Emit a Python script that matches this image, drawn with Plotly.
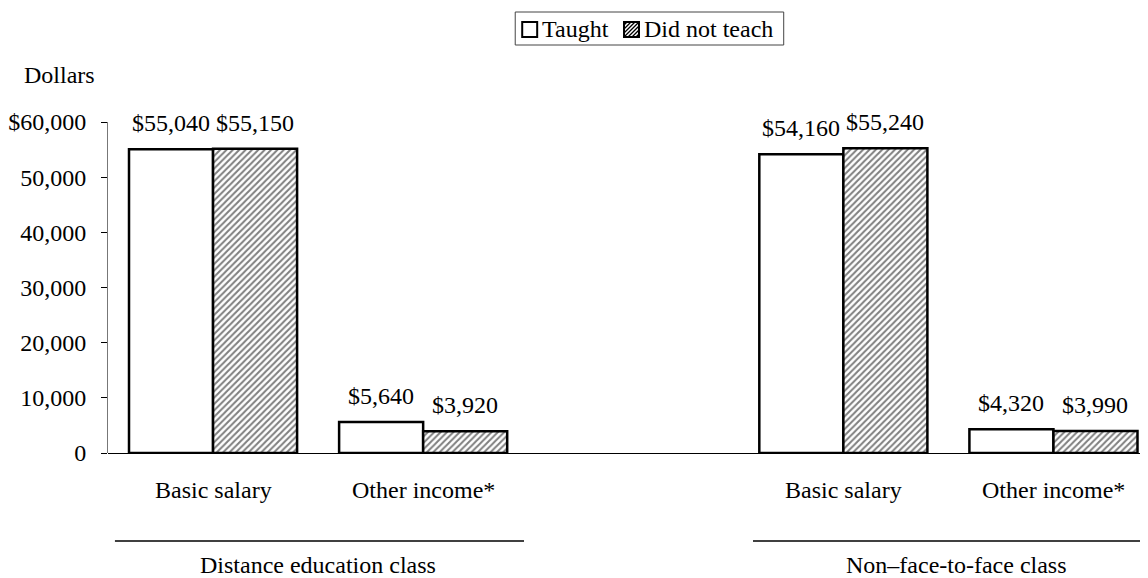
import plotly.graph_objects as go

# ---- data ----
groups = ["Distance education class", "Non\u2013face-to-face class"]
income_types = ["Basic salary", "Other income*"]
taught = [55040, 5640, 54160, 4320]
did_not_teach = [55150, 3920, 55240, 3990]
series_names = ["Taught", "Did not teach"]
y_tickvals = [0, 10000, 20000, 30000, 40000, 50000, 60000]
y_ticktext = ["0", "10,000", "20,000", "30,000", "40,000", "50,000", "$60,000"]

# category positions: two groups of two, with a gap between groups
positions = [1, 2, 4, 5]
cat_labels = income_types * 2
group_centers = [1.5, 4.5]

FONT = "Liberation Serif"
FS = 24

# the page places the figure 8px in from the top-left corner
OFF = 8
L, T = 106 - OFF, 122 - OFF
B = 578 - 453 + OFF
PLOT_H = 578 - T - B
PLOT_W = 1148 - L
UNIT = 210.5  # px per category step


def py(p):
    """paper y for a pixel row in the reference picture"""
    return (453 - p) / PLOT_H


def px(p):
    """paper x for a pixel column in the reference picture"""
    return (p - 106) / PLOT_W


fig = go.Figure()
fig.add_trace(go.Bar(
    x=positions, y=taught, name=series_names[0], showlegend=False,
    marker=dict(color="white", line=dict(color="black", width=2.5)),
))
fig.add_trace(go.Bar(
    x=positions, y=did_not_teach, name=series_names[1], showlegend=False,
    marker=dict(color="white", line=dict(color="black", width=2.5),
                pattern=dict(shape="/", fgcolor="black", bgcolor="white",
                             size=4.5, solidity=0.45)),
))

annotations = []
shapes = []
# value labels
for vals, off in [(taught, -0.2), (did_not_teach, 0.2)]:
    for p, v in zip(positions, vals):
        annotations.append(dict(x=p + off, y=v, xref="x", yref="y",
                                text="${:,}".format(v), showarrow=False,
                                yanchor="bottom", yshift=11,
                                font=dict(family=FONT, size=FS, color="black")))
# category labels
for p, lab in zip(positions, cat_labels):
    annotations.append(dict(x=p, y=py(490), xref="x", yref="paper", text=lab,
                            showarrow=False, yanchor="middle",
                            font=dict(family=FONT, size=FS, color="black")))
# group labels and lines
line_left = [0.967, 0.93]
text_nudge = [0.0, 0.04]
for c, g, ll, tn in zip(group_centers, groups, line_left, text_nudge):
    annotations.append(dict(x=c + tn, y=py(565), xref="x", yref="paper", text=g,
                            showarrow=False, yanchor="middle",
                            font=dict(family=FONT, size=FS, color="black")))
    shapes.append(dict(type="line", xref="x", yref="paper",
                       x0=c - ll, x1=c + 0.98, y0=py(541), y1=py(541),
                       line=dict(color="black", width=1.5)))
# y-axis title
annotations.append(dict(x=px(20), y=py(75), xref="paper", yref="paper",
                        text="Dollars", showarrow=False, xanchor="left",
                        yanchor="middle",
                        font=dict(family=FONT, size=FS, color="black")))

# ---- legend (drawn by hand to match the compact boxed key) ----
shapes.append(dict(type="rect", xref="paper", yref="paper",
                   x0=px(514), x1=px(783), y0=py(45), y1=py(12),
                   line=dict(color="#444", width=1), fillcolor="white"))
sq = [(521, 22), (623, 22)]
for (sx, sy) in sq:
    shapes.append(dict(type="rect", xref="paper", yref="paper",
                       x0=px(sx), x1=px(sx + 15), y0=py(sy + 15), y1=py(sy),
                       line=dict(color="black", width=2), fillcolor="white"))
# hatch in the second key square
hx, hy = sq[1]
segs = []
for k in range(3, 30, 4):
    # line x + y = hx + hy + k clipped to the square
    x0 = max(hx, hx + k - 15)
    x1 = min(hx + 15, hx + k)
    y0 = hy + k - (x0 - hx)
    y1 = hy + k - (x1 - hx)
    segs.append(f"M {px(x0)} {py(y0)} L {px(x1)} {py(y1)}")
shapes.append(dict(type="path", xref="paper", yref="paper", path=" ".join(segs),
                   line=dict(color="black", width=1.3)))
leg_text_x = [541, 643]
for tx, name in zip(leg_text_x, series_names):
    annotations.append(dict(x=px(tx - 2), y=py(29), xref="paper", yref="paper",
                            text=name, showarrow=False, xanchor="left",
                            yanchor="middle",
                            font=dict(family=FONT, size=FS, color="black")))

fig.update_layout(
    width=1148, height=578,
    margin=dict(l=L, r=0, t=T, b=B),
    paper_bgcolor="white", plot_bgcolor="white",
    barmode="group", bargap=0.2, bargroupgap=0,
    font=dict(family=FONT, size=FS, color="black"),
    showlegend=False,
    xaxis=dict(range=[0.5, 0.5 + PLOT_W / UNIT], showticklabels=False, ticks="",
               showgrid=False, zeroline=False, showline=False, fixedrange=True),
    yaxis=dict(range=[0, 60000], tickvals=y_tickvals, ticktext=y_ticktext,
               ticks="outside", ticklen=6, tickcolor="black",
               showline=True, linecolor="#777", linewidth=1,
               showgrid=False, zeroline=True, zerolinecolor="black",
               zerolinewidth=1, ticklabelstandoff=10,
               tickfont=dict(family=FONT, size=FS, color="black")),
    annotations=annotations, shapes=shapes,
)

fig.write_html("out.html")
